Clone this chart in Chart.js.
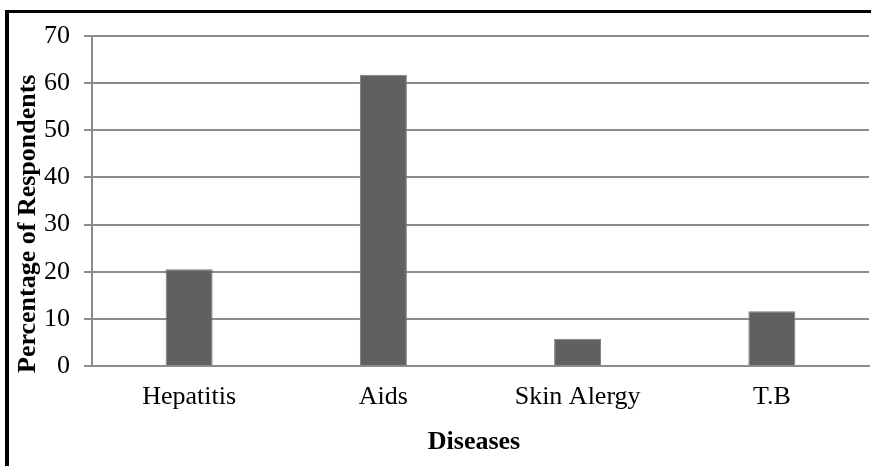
<!DOCTYPE html>
<html>
<head>
<meta charset="utf-8">
<script src="https://cdn.jsdelivr.net/npm/chart.js@4"></script>
<style>
  html, body { margin: 0; padding: 0; background: #fff; overflow: hidden; width: 871px; height: 466px; }
  #wrap { position: absolute; left: 0; top: 0; width: 871px; height: 466px; }
</style>
</head>
<body>
<div id="wrap"><canvas id="c" width="871" height="466"></canvas></div>
<script>
const categories = ["Hepatitis", "Aids", "Skin Alergy", "T.B"];
const percentages = [20.5, 61.8, 5.8, 11.6];
const yTicks = [0, 10, 20, 30, 40, 50, 60, 70];

const FONT = "'Liberation Serif', 'Times New Roman', serif";
const GRID = '#8c8c8c';
const NB = '\u00a0';

// outer frame (top and left edges visible; the rest is cropped in the reference)
const framePlugin = {
  id: 'frame',
  beforeDraw(chart) {
    const ctx = chart.ctx;
    ctx.save();
    ctx.fillStyle = '#fff';
    ctx.fillRect(0, 0, chart.width, chart.height);
    ctx.fillStyle = '#000';
    ctx.fillRect(5, 10, chart.width - 5, 3);
    ctx.fillRect(5, 10, 4, chart.height - 10);
    ctx.restore();
  }
};

new Chart(document.getElementById('c'), {
  type: 'bar',
  data: {
    labels: categories,
    datasets: [{
      data: percentages,
      backgroundColor: '#606060',
      borderColor: '#7a7a7a',
      borderWidth: 1,
      categoryPercentage: 1,
      barPercentage: 0.242
    }]
  },
  plugins: [framePlugin],
  options: {
    responsive: false,
    animation: false,
    devicePixelRatio: 1,
    layout: { padding: { left: 0, top: 36, right: 2, bottom: 0 } },
    plugins: { legend: { display: false }, tooltip: { enabled: false } },
    scales: {
      x: {
        grid: { display: false, drawTicks: false },
        border: { display: true, color: GRID, width: 2 },
        ticks: { color: '#000', padding: 16, font: { family: FONT, size: 26 } },
        title: { display: true, text: 'Diseases' + NB + NB, color: '#000',
                 font: { family: FONT, size: 26, weight: 'bold' }, padding: { top: 0, bottom: 8 } },
        afterFit: (s) => { s.height = 100; }
      },
      y: {
        min: 0, max: 70,
        afterBuildTicks: (s) => { s.ticks = yTicks.map(v => ({ value: v })); },
        grid: { color: GRID, lineWidth: 2, tickLength: 8, drawTicks: true },
        border: { display: true, color: GRID, width: 2 },
        ticks: { color: '#000', padding: 14, font: { family: FONT, size: 26 } },
        title: { display: true, text: 'Percentage of Respondents' + NB.repeat(7), color: '#000',
                 font: { family: FONT, size: 26, weight: 'bold' }, padding: { top: 13, bottom: 0 } },
        afterFit: (s) => { s.width = 92; }
      }
    }
  }
});
</script>
</body>
</html>
